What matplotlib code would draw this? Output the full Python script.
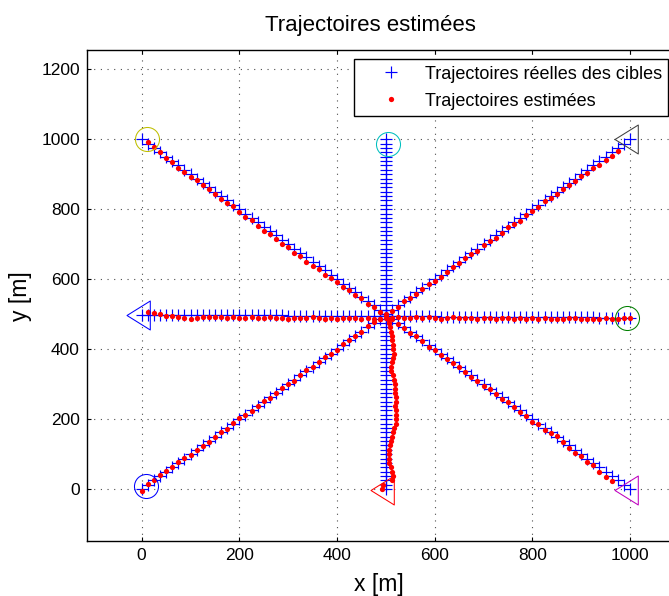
import numpy as np
import matplotlib
matplotlib.use('Agg')
import matplotlib.pyplot as plt
from matplotlib.path import Path
from matplotlib.transforms import Bbox

plt.rcParams['font.family'] = ['Liberation Sans', 'DejaVu Sans']

nan = np.nan

# true target tracks: start / end points, sampled every 12.5 m
track_start = [(0, 0), (0, 1000), (0, 499), (500, 1000)]
track_end = [(1000, 1000), (1000, 0), (1000, 490), (500, 0)]
n_samples = 81

# estimated tracks, read as offsets from the true track (m)
diag_dy = [-5, 1, 0, 2, 1, 1, 2, 2, -1, 0, -1, -3,
           0, 2, -2, 1, 3, 0, -2, 1, 2, -1, 0, 3, 1, -2, 0, 2, -1, 1, 4, 0, -3, 2, 1, -1, 0, 3, 2, -2, 1,
           -2, -4, -1, -3, -5, -2, 0, -4, -6, -3, -2, -5, -1, -4, -7, -3, -2, -6, -4, -1, -5, -8, -3, -4,
           -6, -2, -5, -7, -4, -6,
           -8, -6, -9, -7, -10, -8, -11, -9, nan, nan]
anti_dy = [nan, 5, 3, 0, -3, -2, -6, -5, -8, -4, -7, -5,
           -6, -9, -7, -4, -8, -10, -6, -9, -12, -8, -11, -13, -9, -12, -10, -14, -11, -8, -12, -9, -7,
           -10, -6, -8, -5, -7, -4, -6, -3,
           -2, -4, -1, -3, 0, -2, -5, -1, -3, -4, -2, 0, -3, -5, -2, -4, -1, -3, -6, -2, -4, -5, -3, -7,
           -2, -5, -1, 2, -3, -6,
           -8, -4, -10, -6, -12, -14, -14, nan, nan, nan]
horz_dy = [nan, 7, 5, 2, -3, -3, -7, -9, -11, -8, -7,
           -5, -7, -6, -8, -5, -7, -9, -6, -8, -7, -5, -8, -6, -9, -7, -6, -8, -5, -7, -9, -6, -8, -7,
           -5, -6, -8, -7, -9, -8, -6,
           -5, -3, -6, -4, -2, -5, -3, -4, -6, -3, -2, -5, -4, -3, -6, -4, -2, -5, -3, -4, -6, -3, -5,
           -2, -4, -3, -6, -4, -5, -3, -2, -4, -5, -3, -4, -2, -3, -5, -1, 0]
# vertical target: estimate only on the lower half (y 487.5 -> 0)
vert_dx_lower = [5, 7, 9, 11, 12, 13, 14, 15, 17, 14, 12, 11, 11, 14, 17, 18, 19, 19, 20, 20,
                 19, 20, 20, 21, 20, 17, 15, 12, 10, 9, 7, 6, 6, 7, 10, 13, 15, 13, -6, -8]

# first estimates (circles) and final positions (triangles)
circle_x = [8, 11, 994, 504]
circle_y = [10, 1001, 489, 987]
circle_colors = [(0, 0, 1), (0.75, 0.75, 0), (0, 0.5, 0), (0, 0.75, 0.75)]
tri_x = [0, 500, 1000, 1000]
tri_y = [498, -2, 1000, -3]
tri_colors = [(0, 0, 1), (1, 0, 0), (0.25, 0.25, 0.25), (0.75, 0, 0.75)]

# the reference is a crop of a wider figure: draw wider, save only 669 px
W, H = 720.0, 596.0
fig = plt.figure(figsize=(W / 100, H / 100), dpi=100)
ax = fig.add_axes([86.7 / W, 55 / H, (685 - 86.7) / W, 491 / H])

vert_dx = [nan] * (n_samples - len(vert_dx_lower)) + vert_dx_lower
offsets = [(np.zeros(n_samples), np.array(diag_dy)),
           (np.zeros(n_samples), np.array(anti_dy)),
           (np.zeros(n_samples), np.array(horz_dy)),
           (np.array(vert_dx), np.zeros(n_samples))]

handles = []
for k in range(4):
    tx = np.linspace(track_start[k][0], track_end[k][0], n_samples)
    ty = np.linspace(track_start[k][1], track_end[k][1], n_samples)
    h1, = ax.plot(tx, ty, '+', color='b', ms=8.5, mew=0.85, zorder=3)
    ex = tx + offsets[k][0]
    ey = ty + offsets[k][1]
    h2, = ax.plot(ex, ey, 'o', color='r', ms=3.8, mew=0, zorder=4)
    if k == 0:
        handles = [h1, h2]

for x, y, c in zip(circle_x, circle_y, circle_colors):
    ax.plot(x, y, 'o', ms=17.3, mfc='none', mec=c, mew=0.75, zorder=5)

# left pointing triangle, centred on its centroid
tri_marker = Path([(-15.5, 0), (7.8, -14.5), (7.8, 14.5), (-15.5, 0)],
                  [Path.MOVETO, Path.LINETO, Path.LINETO, Path.CLOSEPOLY])
for x, y, c in zip(tri_x, tri_y, tri_colors):
    ax.plot(x, y, marker=tri_marker, ms=22.3, mfc='none', mec=c, mew=0.75,
            linestyle='none', zorder=5)

ax.set_xlim(-112.6, 1112.6)
ax.set_ylim(-148, 1255)
ax.set_xticks([0, 200, 400, 600, 800, 1000])
ax.set_yticks([0, 200, 400, 600, 800, 1000, 1200])
ax.tick_params(direction='in', length=3, width=0.8, labelsize=12.5,
               top=True, right=True, pad=5)
ax.grid(True, linestyle=(0, (1, 5)), color='0.3', linewidth=0.8)
for s in ax.spines.values():
    s.set_linewidth(1.0)
    s.set_color('black')

fig.text(370 / W, 1 - 26 / H, 'Trajectoires estimées', fontsize=16,
         ha='center', va='center')
fig.text(379 / W, 1 - 584 / H, 'x [m]', fontsize=16.5, ha='center', va='center')
fig.text(20 / W, 1 - 296 / H, 'y [m]', fontsize=16.5, ha='center', va='center',
         rotation=90)

leg = fig.legend(handles, ['Trajectoires réelles des cibles', 'Trajectoires estimées'],
                 loc='upper right', bbox_to_anchor=(668.3 / W, 1 - 59.3 / H),
                 bbox_transform=fig.transFigure, fontsize=13, fancybox=False,
                 framealpha=1, edgecolor='black', borderpad=0.35, labelspacing=0.55,
                 handlelength=3.5, handletextpad=0.1, borderaxespad=0)
leg.get_frame().set_linewidth(1.0)

fig.savefig('out.png', dpi=100, bbox_inches=Bbox.from_bounds(0, 0, 6.69, 5.96))
